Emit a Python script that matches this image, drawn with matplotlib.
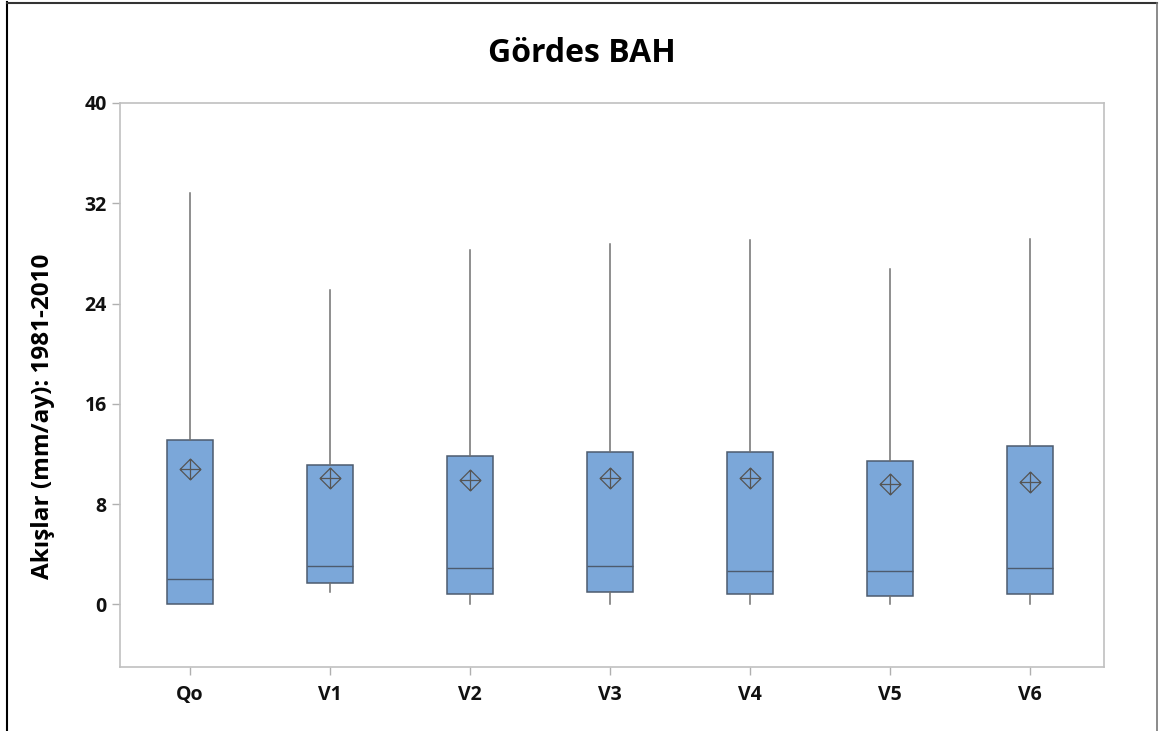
import matplotlib.pyplot as plt
from matplotlib.lines import Line2D
from matplotlib.path import Path

# five-number summaries and means, mm/ay
labels = ["Qo", "V1", "V2", "V3", "V4", "V5", "V6"]
whislo = [0.0, 0.96, 0.0, 0.0, 0.0, 0.0, 0.0]
q1 = [0.05, 1.68, 0.8, 0.96, 0.8, 0.64, 0.8]
med = [2.0, 3.03, 2.87, 3.03, 2.63, 2.63, 2.87]
q3 = [13.09, 11.09, 11.81, 12.13, 12.13, 11.41, 12.61]
whishi = [32.8, 25.06, 28.25, 28.73, 29.05, 26.74, 29.13]
means = [10.77, 10.06, 9.9, 10.06, 10.06, 9.58, 9.74]
yticks = [0, 8, 16, 24, 32, 40]

stats = [dict(label=l, whislo=a, q1=b, med=c, q3=d, whishi=e, mean=m, fliers=[])
         for l, a, b, c, d, e, m in zip(labels, whislo, q1, med, q3, whishi, means)]

plt.rcParams["font.family"] = ["Open Sans", "DejaVu Sans"]

fig = plt.figure(figsize=(11.61, 7.31), dpi=100)
ax = fig.add_axes([120 / 1161, 1 - 667 / 731, 984 / 1161, 564 / 731])

edge = "#4d5b6e"
ax.bxp(stats, positions=range(1, 8), widths=0.33, patch_artist=True,
       showcaps=False, showmeans=False,
       boxprops=dict(facecolor="#7ba7d9", edgecolor=edge, linewidth=1.1),
       medianprops=dict(color=edge, linewidth=1.0),
       whiskerprops=dict(color="#707070", linewidth=1.1))

# mean symbol: diamond with a cross inside
diamond = Path([(0, 1), (1, 0), (0, -1), (-1, 0), (0, 1),
                (0, 1), (0, -1), (-1, 0), (1, 0)],
               [Path.MOVETO, Path.LINETO, Path.LINETO, Path.LINETO, Path.CLOSEPOLY,
                Path.MOVETO, Path.LINETO, Path.MOVETO, Path.LINETO])
ax.plot(range(1, 8), means, linestyle="none", marker=diamond, markersize=15,
        markerfacecolor="none", markeredgecolor="#555555", markeredgewidth=0.9,
        zorder=5)

ax.set_xlim(0.5, 7.53)
ax.set_ylim(-5, 40)
tick_font = dict(fontsize=14, fontweight="bold")
ax.set_yticks(yticks, [str(v) for v in yticks], **tick_font)
ax.set_xticks(range(1, 8), labels, **tick_font)
for s in ax.spines.values():
    s.set_color("#c0c0c0")
    s.set_linewidth(1.2)
ax.tick_params(colors="#b0b0b0", length=6, width=1, labelcolor="#111111")
ax.tick_params(axis="x", pad=7)

ax.set_ylabel("Akışlar (mm/ay): 1981-2010", fontsize=17.5, fontweight="bold")
ax.yaxis.set_label_coords(-0.066, 0.445)
fig.text(0.501, 1 - 54 / 731, "Gördes BAH", ha="center", va="center",
         fontsize=23, fontweight="bold")

# outer frame around the graph region
fig.add_artist(Line2D([7 / 1161, 7 / 1161], [0, 1 - 2 / 731], color="black", lw=1.5))
fig.add_artist(Line2D([7 / 1161, 1157 / 1161], [1 - 3 / 731, 1 - 3 / 731],
                      color="#333333", lw=1.5))
fig.add_artist(Line2D([1157 / 1161, 1157 / 1161], [0, 1 - 3 / 731], color="#777777", lw=1.2))

fig.savefig("out.png", dpi=100)
